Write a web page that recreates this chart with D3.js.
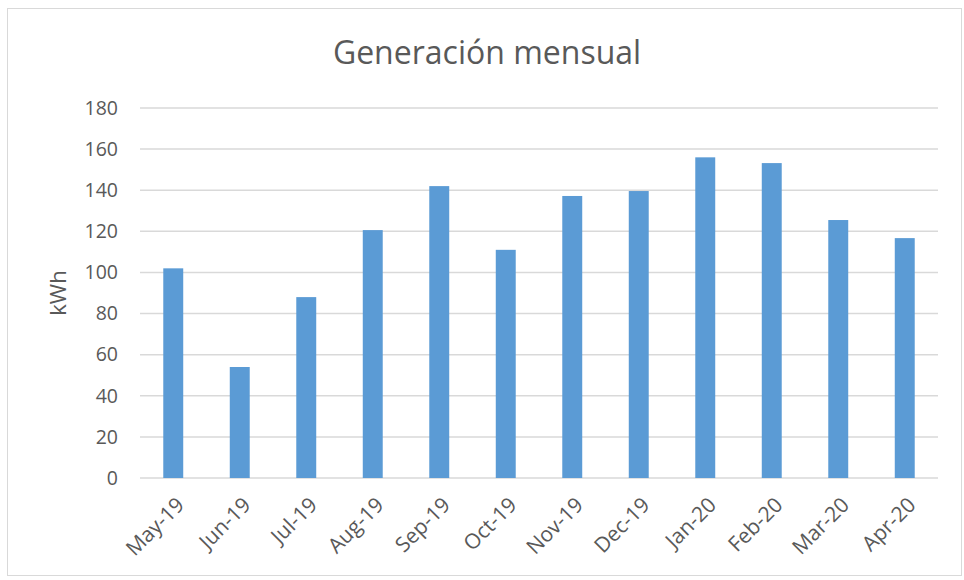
<!DOCTYPE html>
<html>
<head>
<meta charset="utf-8">
<script src="https://cdn.jsdelivr.net/npm/d3@7"></script>
<style>
  body { margin: 0; background: #fff; }
  text { font-family: "Open Sans", Lato, sans-serif; fill: #595959; }
</style>
</head>
<body>
<div id="chart"></div>
<script>
// ---- data ----
var months = ["May-19", "Jun-19", "Jul-19", "Aug-19", "Sep-19", "Oct-19",
              "Nov-19", "Dec-19", "Jan-20", "Feb-20", "Mar-20", "Apr-20"];
var generacion = [102, 54, 88, 120.6, 142, 111, 137.2, 139.6, 156, 153.2, 125.5, 116.7];
var yTicks = [0, 20, 40, 60, 80, 100, 120, 140, 160, 180];

var width = 964, height = 580;
var margin = {top: 108, right: 26, bottom: 102, left: 140};
var font = "'Open Sans', Lato, sans-serif";

var svg = d3.select("#chart").append("svg")
    .attr("width", width)
    .attr("height", height);

// chart frame
svg.append("rect")
    .attr("x", 7.5).attr("y", 8.5)
    .attr("width", width - 10).attr("height", height - 13)
    .attr("fill", "none")
    .attr("stroke", "#d9d9d9");

var x = d3.scaleBand()
    .domain(months)
    .range([margin.left, width - margin.right])
    .paddingInner(0.7)
    .paddingOuter(0.35);

var y = d3.scaleLinear()
    .domain([0, 180])
    .range([height - margin.bottom, margin.top]);

// gridlines
svg.append("g")
    .selectAll("line")
    .data(yTicks)
    .join("line")
    .attr("x1", margin.left)
    .attr("x2", width - margin.right)
    .attr("y1", function(d) { return y(d); })
    .attr("y2", function(d) { return y(d); })
    .attr("stroke", "#d9d9d9")
    .attr("stroke-width", 1.5);

// bars
svg.append("g")
    .selectAll("rect")
    .data(generacion)
    .join("rect")
    .attr("x", function(d, i) { return x(months[i]); })
    .attr("y", function(d) { return y(d); })
    .attr("width", x.bandwidth())
    .attr("height", function(d) { return y(0) - y(d); })
    .attr("fill", "#5b9bd5");

// y axis
var yAxis = svg.append("g")
    .attr("transform", "translate(" + margin.left + ",0)")
    .call(d3.axisLeft(y).tickValues(yTicks).tickSize(0).tickPadding(22));
yAxis.select(".domain").remove();
yAxis.selectAll("text")
    .style("font-size", "19.5px")
    .attr("fill", "#595959")
    .attr("font-family", font);

// x axis
var xAxis = svg.append("g")
    .attr("transform", "translate(0," + y(0) + ")")
    .call(d3.axisBottom(x).tickSize(0));
xAxis.select(".domain").remove();
xAxis.selectAll("text")
    .style("font-size", "21px")
    .attr("fill", "#595959")
    .attr("font-family", font)
    .attr("text-anchor", "end")
    .attr("dy", "0.35em")
    .attr("transform", "translate(7,23) rotate(-45)")
    .attr("y", 0).attr("x", 0);

// axis label
svg.append("text")
    .attr("transform", "translate(66,293) rotate(-90)")
    .attr("text-anchor", "middle")
    .style("font-size", "22px")
    .text("kWh");

// title
svg.append("text")
    .attr("x", 487)
    .attr("y", 64)
    .attr("text-anchor", "middle")
    .style("font-size", "32px")
    .text("Generación mensual");
</script>
</body>
</html>
